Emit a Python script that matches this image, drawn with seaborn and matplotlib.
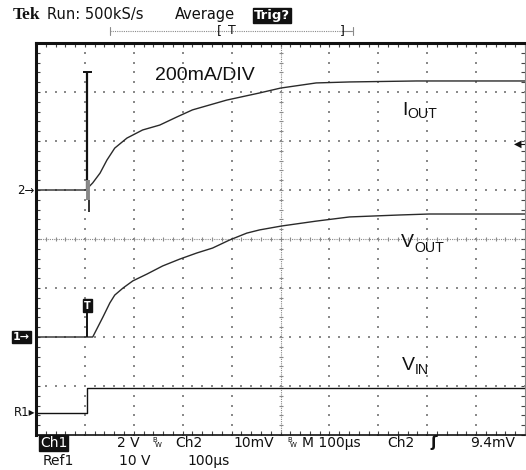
import matplotlib

matplotlib.use("Agg")
import matplotlib.pyplot as plt
import matplotlib.transforms as mtransforms
import numpy as np
import seaborn as sns

sns.set_theme(style="white")
plt.rcParams["font.family"] = ["DejaVu Sans"]

# scope screen: 10 div x 100 us, 8 div vertical
US_PER_DIV = 100
T_TRIG = 105  # us from left edge of screen

# Ch2: output current via sense resistor, 200 mA/div (10 mV/div)
CH2_MA_PER_DIV = 200
CH2_OFFSET = 1.0
TRIG_LEVEL_MV = 9.4
CH2_MV_PER_DIV = 10
IOUT_T = [0, 102, 116, 131, 145, 161, 186, 218, 253, 288, 320, 355, 390, 457, 500, 573, 641, 778, 1000]
IOUT_MA = [0, 0, 29, 69, 122, 171, 212, 245, 265, 298, 327, 347, 367, 396, 416, 437, 441, 445, 445]
IOUT_SPIKE_MA = 482
IOUT_DIP_MA = -90

# Ch1: output voltage, 2 V/div
CH1_V_PER_DIV = 2
CH1_OFFSET = -2.0
VOUT_T = [0, 116, 137, 151, 161, 178, 198, 227, 259, 294, 329, 361, 396, 431, 457, 502,
          573, 641, 743, 804, 1000]
VOUT_V = [0, 0, 0.82, 1.39, 1.71, 2.0, 2.29, 2.57, 2.90, 3.18, 3.43, 3.63, 3.96, 4.24, 4.37,
          4.53, 4.73, 4.90, 4.98, 5.02, 5.02]

# Ref1: input voltage, 10 V/div
REF1_V_PER_DIV = 10
REF1_OFFSET = -3.55
VIN_T = [0, 105, 105, 1000]
VIN_V = [0, 0, 5.0, 5.0]

W, H = 526, 470
INK = "#111111"
TRACE = "#2a2a2a"
DOTS = "#8a8a8a"

fig = plt.figure(figsize=(W / 100, H / 100), dpi=100)
ax = fig.add_axes([36 / W, 1 - 435 / H, 489 / W, 392 / H])
ax.set_xlim(0, 10 * US_PER_DIV)
ax.set_ylim(-4, 4)

# graticule: dotted major lines, dense centre lines
minor_y = np.arange(-4, 4.001, 0.2)
minor_x = np.arange(0, 1000.1, US_PER_DIV / 5)
for gx in range(US_PER_DIV, 10 * US_PER_DIV, US_PER_DIV):
    if gx == 5 * US_PER_DIV:
        continue
    ax.scatter(np.full_like(minor_y, gx), minor_y, s=1.0, marker="s", color=DOTS, lw=0)
for gy in range(-3, 4):
    if gy == 0:
        continue
    ax.scatter(minor_x, np.full_like(minor_x, gy), s=1.0, marker="s", color=DOTS, lw=0)
ax.axvline(5 * US_PER_DIV, ls=(0, (1, 1)), lw=0.8, color=DOTS)
ax.axhline(0, ls=(0, (1, 1)), lw=0.8, color=DOTS)
ax.scatter(np.full_like(minor_y, 5 * US_PER_DIV), minor_y, s=10, marker="_", color=DOTS, lw=0.8)
ax.scatter(minor_x, np.zeros_like(minor_x), s=10, marker="|", color=DOTS, lw=0.8)

# traces
sns.lineplot(x=IOUT_T, y=np.array(IOUT_MA) / CH2_MA_PER_DIV + CH2_OFFSET, ax=ax,
             color=TRACE, lw=1.0, estimator=None, sort=False)
sns.lineplot(x=VOUT_T, y=np.array(VOUT_V) / CH1_V_PER_DIV + CH1_OFFSET, ax=ax,
             color=TRACE, lw=1.0, estimator=None, sort=False)
sns.lineplot(x=VIN_T, y=np.array(VIN_V) / REF1_V_PER_DIV + REF1_OFFSET, ax=ax,
             color=INK, lw=1.0, estimator=None, sort=False)

# inrush spike on Ch2
spike_top = CH2_OFFSET + IOUT_SPIKE_MA / CH2_MA_PER_DIV
ax.vlines(T_TRIG, CH2_OFFSET, spike_top, color=INK, lw=1.6)
ax.hlines(spike_top, T_TRIG - 9, T_TRIG + 9, color=INK, lw=1.4)
ax.vlines(T_TRIG + 2, CH2_OFFSET - 0.2, CH2_OFFSET + 0.2, color="#888888", lw=2.8)
ax.vlines(T_TRIG + 3, CH2_OFFSET + IOUT_DIP_MA / CH2_MA_PER_DIV, CH2_OFFSET - 0.2,
          color=INK, lw=1.2)

# trigger "T" marker on Ch1
ax.vlines(T_TRIG, CH1_OFFSET, CH1_OFFSET + 0.5, color=INK, lw=1.4)
ax.text(T_TRIG, CH1_OFFSET + 0.64, "T", ha="center", va="center", color="white",
        fontsize=7, fontweight="bold",
        bbox=dict(boxstyle="square,pad=0.15", fc=INK, ec=INK))

# frame
for side in ["top", "left"]:
    ax.spines[side].set_linewidth(2.2)
    ax.spines[side].set_color(INK)
ax.spines["bottom"].set_linewidth(1.2)
ax.spines["bottom"].set_color(INK)
ax.spines["right"].set_linestyle((0, (1, 1)))
ax.spines["right"].set_linewidth(0.8)
ax.spines["right"].set_color(DOTS)
ax.set_xticks(np.arange(0, 1001, US_PER_DIV))
ax.set_xticks(minor_x, minor=True)
ax.set_yticks(np.arange(-4, 5, 1))
ax.set_yticks(minor_y, minor=True)
ax.tick_params(which="both", direction="in", length=3.2, width=0.8, color="#444444",
               top=True, bottom=True, left=True, right=True,
               labelbottom=False, labelleft=False)

# channel ground markers on the left
left_tr = mtransforms.blended_transform_factory(fig.transFigure, ax.transData)
ax.text(35 / W, CH2_OFFSET, "2→", transform=left_tr, ha="right", va="center",
        fontsize=8.5, color=INK)
ax.text(30 / W, CH1_OFFSET, "1→", transform=left_tr, ha="right", va="center",
        fontsize=8, fontweight="bold", color="white",
        bbox=dict(boxstyle="square,pad=0.12", fc=INK, ec=INK))
ax.text(35 / W, REF1_OFFSET, "R1▸", transform=left_tr, ha="right", va="center",
        fontsize=8.5, color=INK)

# trigger level on the right
right_tr = mtransforms.blended_transform_factory(ax.transAxes, ax.transData)
trig_div = CH2_OFFSET + TRIG_LEVEL_MV / CH2_MV_PER_DIV
ax.text(0.993, trig_div, "◀", transform=right_tr, ha="right", va="center",
        fontsize=7, color=INK)
ax.plot([0.985, 1.0], [trig_div, trig_div], transform=right_tr, color=INK, lw=0.8)


def fig_text(px, py, s, **kw):
    kw.setdefault("color", INK)
    fig.text(px / W, 1 - py / H, s, **kw)


# header
fig_text(13, 19, "Tek", fontsize=12.5, fontweight="bold", va="baseline",
         family="Liberation Serif")
fig_text(47, 19, "Run: 500kS/s", fontsize=10.5, va="baseline")
fig_text(175, 19, "Average", fontsize=10.5, va="baseline")
fig_text(254, 19, "Trig?", fontsize=9.5, fontweight="bold", va="baseline", color="white",
         bbox=dict(boxstyle="square,pad=0.1", fc=INK, ec=INK))

# record-length bar
bar = fig.add_axes([0, 0, 1, 1], facecolor="none")
bar.set_xlim(0, W)
bar.set_ylim(H, 0)
bar.axis("off")
bar.plot([110, 342], [31, 31], ls=(0, (1, 1)), lw=0.8, color=DOTS)
bar.plot([342, 352], [31, 31], lw=0.8, color=DOTS)
bar.plot([110, 110], [27, 35], lw=0.8, color=DOTS)
bar.plot([353, 353], [27, 35], lw=0.8, color=DOTS)
bar.text(219, 31, "[", ha="center", va="center", fontsize=9, color=INK)
bar.text(232, 31, "T", ha="center", va="center", fontsize=9, color=INK)
bar.text(342, 31, "]", ha="center", va="center", fontsize=9, color=INK)

# annotations inside the screen
lab = dict(family="Liberation Sans", va="baseline")
fig_text(155, 80, "200mA/DIV", fontsize=14, **lab)
fig_text(402, 115, "I", fontsize=14, **lab)
fig_text(407, 118, "OUT", fontsize=10.2, **lab)
fig_text(401, 247, "V", fontsize=14, **lab)
fig_text(414, 252, "OUT", fontsize=10.2, **lab)
fig_text(402, 370, "V", fontsize=14, **lab)
fig_text(415, 374, "IN", fontsize=10.2, **lab)

# readout
ro = dict(fontsize=10, va="center")
fig_text(40, 443, "Ch1", color="white",
         bbox=dict(boxstyle="square,pad=0.08", fc=INK, ec=INK), **ro)
fig_text(117, 443, "2 V", **ro)
fig_text(152, 440, "B", fontsize=5, va="center")
fig_text(155, 445, "W", fontsize=5, va="center")
fig_text(175, 443, "Ch2", **ro)
fig_text(233, 443, "10mV", **ro)
fig_text(287, 440, "B", fontsize=5, va="center")
fig_text(290, 445, "W", fontsize=5, va="center")
fig_text(302, 443, "M 100µs", **ro)
fig_text(387, 443, "Ch2", **ro)
fig_text(430, 443, "ʃ", fontsize=11, fontweight="bold", va="center")
fig_text(470, 443, "9.4mV", **ro)
fig_text(43, 461, "Ref1", **ro)
fig_text(119, 461, "10 V", **ro)
fig_text(187, 461, "100µs", **ro)

fig.savefig("out.png", dpi=100)
